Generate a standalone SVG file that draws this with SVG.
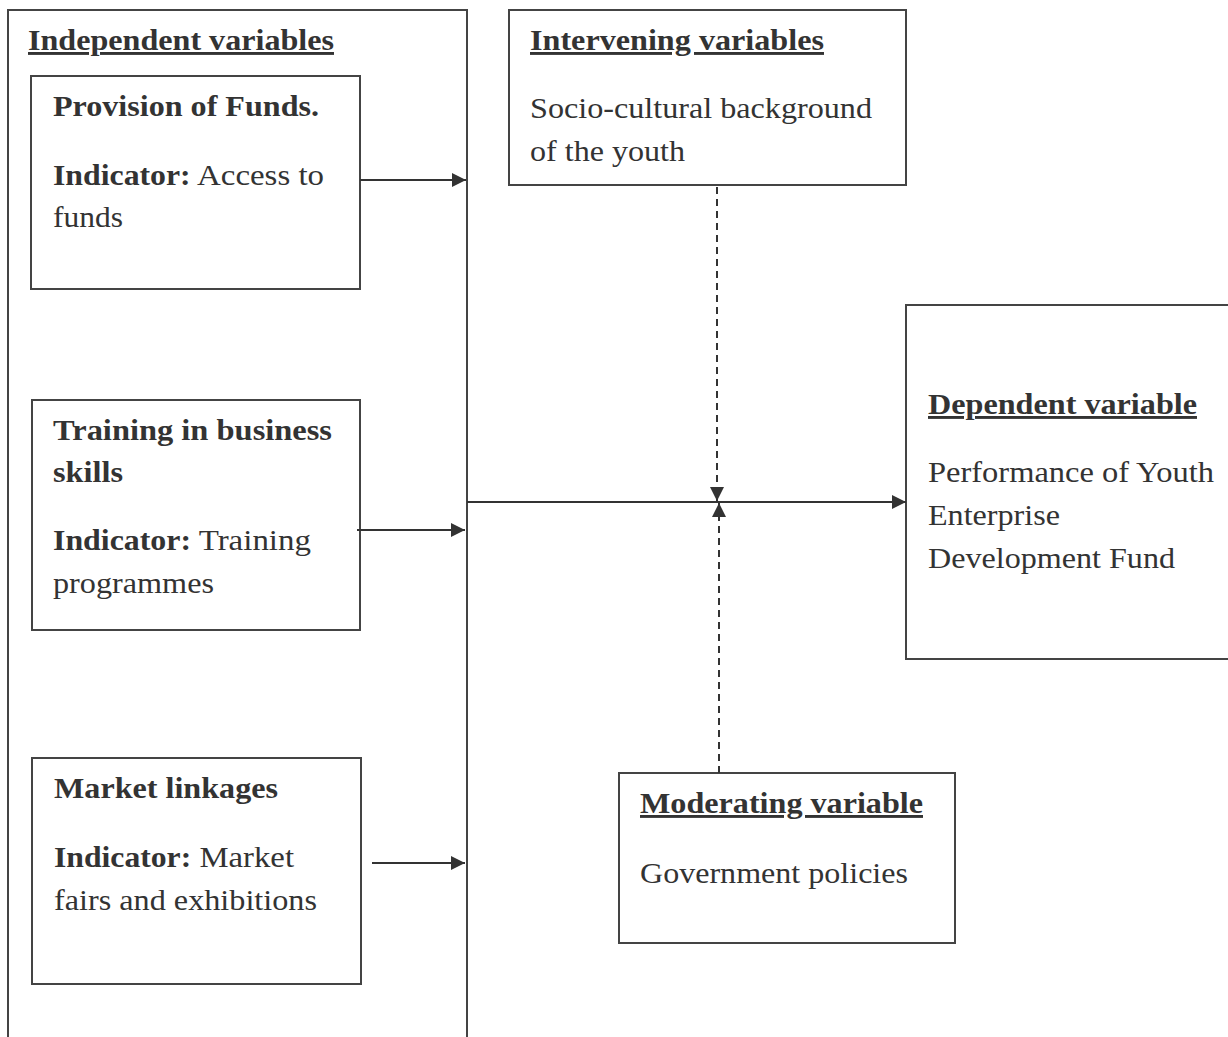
<svg xmlns="http://www.w3.org/2000/svg" width="1228" height="1037" viewBox="0 0 1228 1037">
<style>
.box{fill:none;stroke:#444;stroke-width:2}
.t{font-family:"Liberation Serif",serif;font-size:30px;fill:#333}
.b{font-weight:bold;font-size:29px}
.u{text-decoration:underline}
.c{stroke:#333;stroke-width:2;fill:none}
.d{stroke-dasharray:7,5}
</style>
<defs>
<marker id="ah" viewBox="0 0 10 10" refX="10" refY="5" markerWidth="16" markerHeight="14" markerUnits="userSpaceOnUse" orient="auto">
<path d="M0,0 L10,5 L0,10 z" fill="#333"/>
</marker>
</defs>
<rect width="1228" height="1037" fill="#fff"/>
<g id="independent">
<rect class="box" x="8" y="10" width="459" height="1040"/>
<text class="t b u" x="28" y="50" textLength="306" lengthAdjust="spacingAndGlyphs">Independent variables</text>
</g>
<g id="provision">
<rect class="box" x="31" y="76" width="329" height="213"/>
<text class="t b" x="53" y="116" textLength="266" lengthAdjust="spacingAndGlyphs">Provision of Funds.</text>
<text class="t" x="53" y="185" textLength="271" lengthAdjust="spacingAndGlyphs"><tspan font-weight="bold" font-size="29">Indicator:</tspan> Access to</text>
<text class="t" x="53" y="227" textLength="70" lengthAdjust="spacingAndGlyphs">funds</text>
</g>
<g id="training">
<rect class="box" x="32" y="400" width="328" height="230"/>
<text class="t b" x="53" y="440" textLength="279" lengthAdjust="spacingAndGlyphs">Training in business</text>
<text class="t b" x="53" y="482" textLength="70" lengthAdjust="spacingAndGlyphs">skills</text>
<text class="t" x="53" y="550" textLength="258" lengthAdjust="spacingAndGlyphs"><tspan font-weight="bold" font-size="29">Indicator:</tspan> Training</text>
<text class="t" x="53" y="593" textLength="161" lengthAdjust="spacingAndGlyphs">programmes</text>
</g>
<g id="market">
<rect class="box" x="32" y="758" width="329" height="226"/>
<text class="t b" x="54" y="798" textLength="224" lengthAdjust="spacingAndGlyphs">Market linkages</text>
<text class="t" x="54" y="867" textLength="240" lengthAdjust="spacingAndGlyphs"><tspan font-weight="bold" font-size="29">Indicator:</tspan> Market</text>
<text class="t" x="54" y="910" textLength="263" lengthAdjust="spacingAndGlyphs">fairs and exhibitions</text>
</g>
<g id="intervening">
<rect class="box" x="509" y="10" width="397" height="175"/>
<text class="t b u" x="530" y="50" textLength="294" lengthAdjust="spacingAndGlyphs">Intervening variables</text>
<text class="t" x="530" y="118" textLength="342" lengthAdjust="spacingAndGlyphs">Socio-cultural background</text>
<text class="t" x="530" y="161" textLength="155" lengthAdjust="spacingAndGlyphs">of the youth</text>
</g>
<g id="dependent">
<rect class="box" x="906" y="305" width="330" height="354"/>
<text class="t b u" x="928" y="414" textLength="269" lengthAdjust="spacingAndGlyphs">Dependent variable</text>
<text class="t" x="928" y="482" textLength="286" lengthAdjust="spacingAndGlyphs">Performance of Youth</text>
<text class="t" x="928" y="525" textLength="132" lengthAdjust="spacingAndGlyphs">Enterprise</text>
<text class="t" x="928" y="568" textLength="247" lengthAdjust="spacingAndGlyphs">Development Fund</text>
</g>
<g id="moderating">
<rect class="box" x="619" y="773" width="336" height="170"/>
<text class="t b u" x="640" y="813" textLength="283" lengthAdjust="spacingAndGlyphs">Moderating variable</text>
<text class="t" x="640" y="883" textLength="268" lengthAdjust="spacingAndGlyphs">Government policies</text>
</g>
<g id="connectors">
<line class="c" x1="360" y1="180" x2="466" y2="180" marker-end="url(#ah)"/>
<line class="c" x1="357" y1="530" x2="465" y2="530" marker-end="url(#ah)"/>
<line class="c" x1="372" y1="863" x2="465" y2="863" marker-end="url(#ah)"/>
<line class="c" x1="467" y1="502" x2="906" y2="502" marker-end="url(#ah)"/>
<line class="c d" x1="717" y1="187" x2="717" y2="501" marker-end="url(#ah)"/>
<line class="c d" x1="719" y1="773" x2="719" y2="503" marker-end="url(#ah)"/>
</g>
</svg>
